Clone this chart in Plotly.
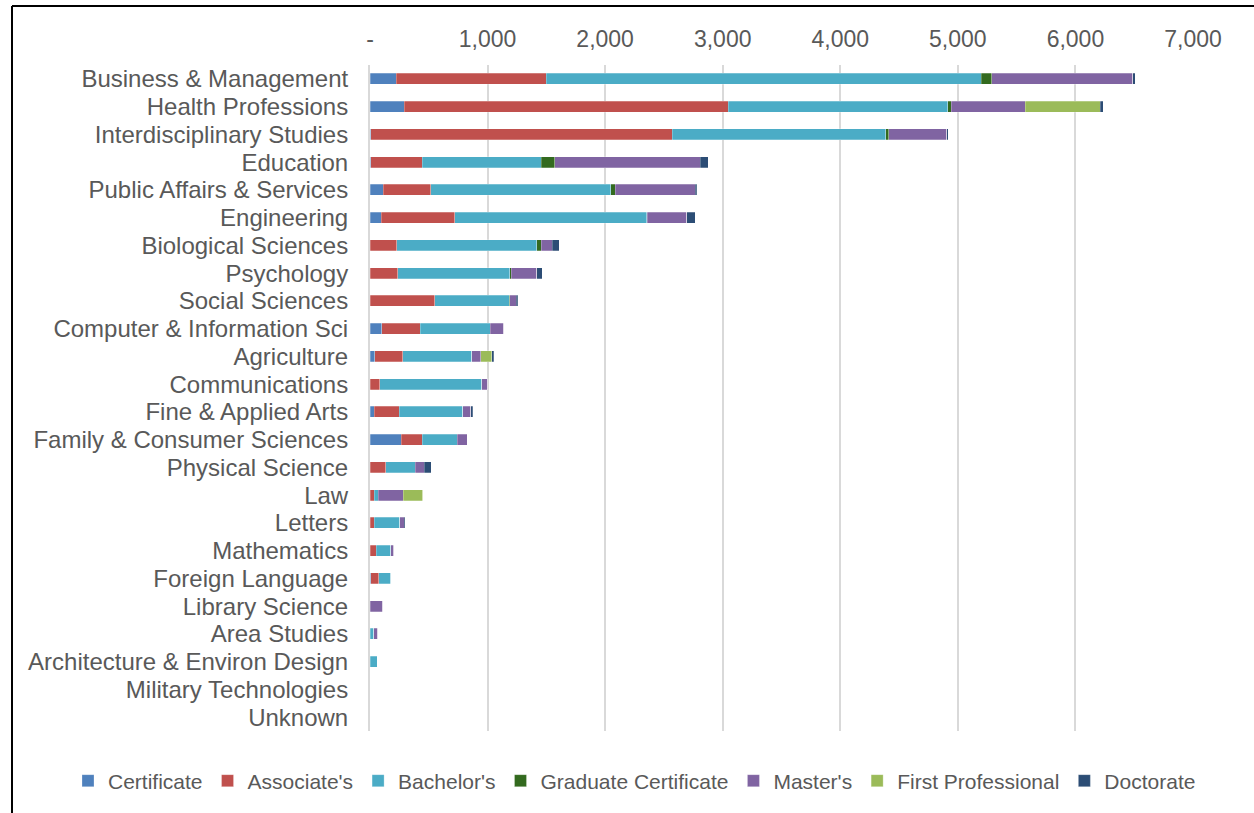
import plotly.graph_objects as go

categories = ["Business & Management", "Health Professions", "Interdisciplinary Studies", "Education",
              "Public Affairs & Services", "Engineering", "Biological Sciences", "Psychology",
              "Social Sciences", "Computer & Information Sci", "Agriculture", "Communications",
              "Fine & Applied Arts", "Family & Consumer Sciences", "Physical Science", "Law",
              "Letters", "Mathematics", "Foreign Language", "Library Science", "Area Studies",
              "Architecture & Environ Design", "Military Technologies", "Unknown"]

certificate = [222, 290, 5, 5, 111, 94, 0, 0, 3, 102, 40, 0, 34, 264, 0, 3, 0, 3, 5, 0, 0, 0, 0, 0]
associates = [1275, 2758, 2566, 438, 406, 625, 227, 236, 548, 324, 239, 83, 213, 179, 134, 31, 34, 48, 69, 0, 0, 0, 0, 0]
bachelors = [3700, 1866, 1814, 1014, 1531, 1636, 1191, 954, 633, 596, 587, 866, 540, 301, 249, 37, 219, 125, 102, 0, 31, 63, 0, 0]
grad_cert = [91, 31, 28, 114, 37, 5, 39, 12, 4, 0, 0, 0, 0, 0, 0, 0, 0, 0, 0, 0, 0, 0, 0, 0]
masters = [1199, 627, 492, 1238, 681, 332, 91, 218, 57, 117, 77, 51, 71, 82, 80, 210, 37, 26, 6, 108, 37, 0, 0, 0]
first_prof = [0, 637, 0, 0, 0, 0, 0, 0, 0, 0, 94, 0, 0, 0, 0, 168, 0, 0, 0, 0, 0, 0, 0, 0]
doctorate = [22, 28, 14, 68, 12, 73, 60, 43, 12, 0, 17, 0, 14, 0, 57, 0, 8, 6, 0, 0, 0, 0, 0, 0]

series_names = ["Certificate", "Associate's", "Bachelor's", "Graduate Certificate", "Master's",
                "First Professional", "Doctorate"]
series_values = [certificate, associates, bachelors, grad_cert, masters, first_prof, doctorate]
series_colors = ["#4F81BD", "#C0504D", "#4BACC6", "#336A1F", "#8064A2", "#9BBB59", "#2C4D75"]

x_ticks = [0, 1000, 2000, 3000, 4000, 5000, 6000, 7000]
x_ticktext = ["-", "1,000", "2,000", "3,000", "4,000", "5,000", "6,000", "7,000"]

FONT = "Liberation Sans, Arial, sans-serif"
GREY = "#595959"

fig = go.Figure()
for name, vals, col in zip(series_names, series_values, series_colors):
    fig.add_trace(go.Bar(
        y=categories, x=vals, name=name, orientation="h",
        marker=dict(color=col, line=dict(color="rgba(255,255,255,0.5)", width=0.5)),
    ))

# plot area geometry (px) used for the outer frame and legend placement
L, R, T, B = 370, 1193, 65, 731
W, H = R - L, B - T
def px_x(p):
    return (p - L) / W
def px_y(p):
    return (B - p) / H

fig.update_layout(
    width=1254, height=813,
    barmode="stack", bargap=0.6,
    plot_bgcolor="white", paper_bgcolor="white",
    margin=dict(l=L, r=1254 - R, t=T, b=813 - B, pad=0, autoexpand=False),
    font=dict(family=FONT, color=GREY),
    xaxis=dict(
        side="top", range=[0, 7000], tickmode="array", tickvals=x_ticks, ticktext=x_ticktext,
        showgrid=True, gridcolor="#D9D9D9", gridwidth=1.5,
        zeroline=False, showline=False, ticks="",
        tickfont=dict(size=23, color=GREY, family=FONT),
        ticklabelstandoff=12, automargin=False,
    ),
    yaxis=dict(
        categoryorder="array", categoryarray=categories, autorange="reversed",
        tickmode="array", tickvals=categories, ticktext=categories,
        showgrid=False, zeroline=False, ticks="",
        showline=True, linecolor="#D9D9D9", linewidth=2,
        tickfont=dict(size=24, color=GREY, family=FONT),
        ticklabelstandoff=15, automargin=False,
    ),
    legend=dict(
        orientation="h", x=px_x(68), xanchor="left",
        y=px_y(781), yanchor="middle",
        font=dict(size=21, color=GREY, family=FONT),
        itemwidth=30, traceorder="normal", bgcolor="rgba(0,0,0,0)",
    ),
    shapes=[
        dict(type="line", xref="paper", yref="paper", x0=px_x(12), x1=px_x(1260),
             y0=px_y(6), y1=px_y(6), line=dict(color="black", width=2)),
        dict(type="line", xref="paper", yref="paper", x0=px_x(12), x1=px_x(12),
             y0=px_y(6), y1=px_y(820), line=dict(color="black", width=2)),
    ],
)

fig.write_html("out.html", config={"displayModeBar": False},
               post_script="document.body.style.margin='0';")
